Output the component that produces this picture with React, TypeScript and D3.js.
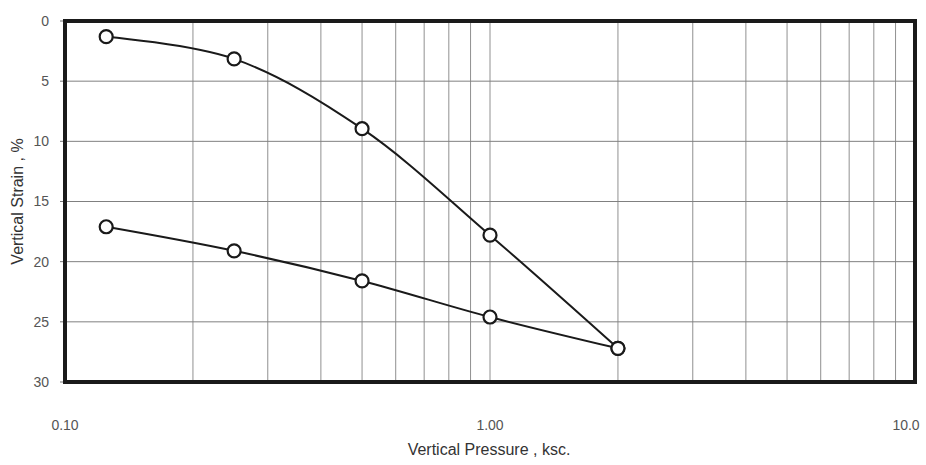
import React from "react";
import * as d3 from "d3";

// consolidation test: loading and unloading branches
const loadPressure = [0.125, 0.25, 0.5, 1.0, 2.0];
const loadStrain = [1.3, 3.15, 8.95, 17.8, 27.2];
const unloadPressure = [0.125, 0.25, 0.5, 1.0, 2.0];
const unloadStrain = [17.1, 19.1, 21.6, 24.6, 27.2];
const yTicks = [0, 5, 10, 15, 20, 25, 30];
const xTickLabels = [
  { v: 0.1, label: "0.10" },
  { v: 1, label: "1.00" },
  { v: 10, label: "10.0" },
];
const minorGrid = [0.2, 0.3, 0.4, 0.5, 0.6, 0.7, 0.8, 0.9, 1, 2, 3, 4, 5, 6, 7, 8, 9];

const W = 926;
const H = 465;
const left = 65, right = 915, top = 21, bottom = 382;

export default function App() {
  const x = d3.scaleLog().domain([0.1, 10]).range([left, right]);
  const y = d3.scaleLinear().domain([0, 30]).range([top, bottom]);

  const line = d3
    .line<[number, number]>()
    .x((d) => x(d[0]))
    .y((d) => y(d[1]))
    .curve(d3.curveCatmullRom.alpha(0.5));

  const load: [number, number][] = loadPressure.map((p, i) => [p, loadStrain[i]]);
  const unload: [number, number][] = unloadPressure.map((p, i) => [p, unloadStrain[i]]);

  const font = "'Liberation Sans', Arial, sans-serif";

  return (
    <svg
      width={W}
      height={H}
      style={{ position: "absolute", left: 0, top: 0, background: "#fff" }}
    >
      <rect x={0} y={0} width={W} height={H} fill="#fff" />
      {minorGrid.map((v) => (
        <line
          key={"gx" + v}
          x1={x(v)}
          x2={x(v)}
          y1={top}
          y2={bottom}
          stroke="#909090"
          strokeWidth={1}
        />
      ))}
      {yTicks.slice(1, -1).map((t) => (
        <line
          key={"gy" + t}
          x1={left}
          x2={right}
          y1={y(t)}
          y2={y(t)}
          stroke="#808080"
          strokeWidth={1}
        />
      ))}
      {yTicks.map((t) => (
        <g key={"ty" + t}>
          <line x1={left - 5} x2={left} y1={y(t)} y2={y(t)} stroke="#777" />
          <text
            x={left - 16}
            y={y(t)}
            dy="0.35em"
            textAnchor="end"
            fontFamily={font}
            fontSize={14}
            fill="#555"
          >
            {t}
          </text>
        </g>
      ))}
      <rect
        x={left}
        y={top}
        width={right - left}
        height={bottom - top}
        fill="none"
        stroke="#1a1a1a"
        strokeWidth={4}
      />
      {xTickLabels.map((t, i) => (
        <text
          key={"tx" + t.label}
          x={i === 2 ? x(t.v) - 9 : x(t.v)}
          y={430}
          textAnchor="middle"
          fontFamily={font}
          fontSize={14}
          fill="#555"
        >
          {t.label}
        </text>
      ))}
      <text
        x={489}
        y={455}
        textAnchor="middle"
        fontFamily={font}
        fontSize={16}
        fill="#333"
      >
        Vertical Pressure , ksc.
      </text>
      <text
        transform={`translate(23, ${(top + bottom) / 2}) rotate(-90)`}
        textAnchor="middle"
        fontFamily={font}
        fontSize={16}
        fill="#333"
      >
        Vertical Strain , %
      </text>
      <path d={line(load) || ""} fill="none" stroke="#1a1a1a" strokeWidth={2} />
      <path d={line(unload) || ""} fill="none" stroke="#1a1a1a" strokeWidth={2} />
      {[...load, ...unload].map((d, i) => (
        <circle
          key={"c" + i}
          cx={x(d[0])}
          cy={y(d[1])}
          r={6.5}
          fill="#fff"
          stroke="#1a1a1a"
          strokeWidth={2.2}
        />
      ))}
    </svg>
  );
}
